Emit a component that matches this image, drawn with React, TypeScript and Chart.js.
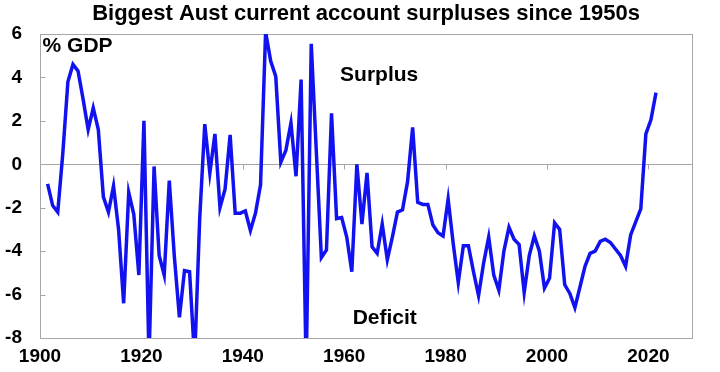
import React, { useEffect, useRef } from "react";
import { Chart, registerables } from "chart.js";

Chart.register(...registerables);

const titleText = "Biggest Aust current account surpluses since 1950s";

// Current account balance, % of GDP, 1901 … 2021
const firstYear = 1901;
const balance = [
  -0.9, -1.9, -2.2, 0.5, 3.8, 4.6, 4.3, 3.0, 1.6, 2.6,
  1.6, -1.5, -2.2, -1.0, -3.0, -6.4, -1.3, -2.3, -5.1, 2.0,
  -9.0, -0.1, -4.2, -5.1, -0.75, -4.25, -7.05, -4.9, -4.95, -9.0,
  -2.5, 1.85, -0.4, 1.4, -2.0, -1.15, 1.35, -2.25, -2.25, -2.15,
  -3.05, -2.25, -0.95, 6.1, 4.75, 4.05, 0.1, 0.65, 1.9, -0.55,
  3.9, -9.5, 5.55, 0.6, -4.3, -3.95, 2.35, -2.5, -2.45, -3.35,
  -4.95, 0.0, -2.75, -0.4, -3.8, -4.1, -2.75, -4.4, -3.35, -2.2,
  -2.1, -0.8, 1.7, -1.75, -1.85, -1.85, -2.8, -3.15, -3.3, -1.6,
  -3.65, -5.45, -3.75, -3.75, -4.95, -6.05, -4.55, -3.35, -5.1, -5.8,
  -4.0, -2.9, -3.45, -3.7, -5.9, -4.2, -3.3, -4.0, -5.7, -5.25,
  -2.7, -3.0, -5.55, -5.95, -6.6, -5.65, -4.7, -4.1, -4.0, -3.55,
  -3.45, -3.6, -3.9, -4.2, -4.7, -3.25, -2.65, -2.05, 1.4, 2.05,
  3.3,
];
const years = balance.map((_, i) => firstYear + i);

const xTicks = [1900, 1920, 1940, 1960, 1980, 2000, 2020];
const yTicks = [-8, -6, -4, -2, 0, 2, 4, 6];
const xMin = 1900;
const xMax = 2028.6;

const annotations = [
  { text: "% GDP", x: 1900.5, y: 5.45, align: "left" },
  { text: "Surplus", x: 1966.9, y: 4.1, align: "center" },
  { text: "Deficit", x: 1968.0, y: -7.1, align: "center" },
];

const FONT = "'Liberation Sans', Arial, sans-serif";
const GRID = "#a6a6a6";
const LINE = "rgb(18,18,240)";

const framePlugin = {
  id: "frame",
  beforeDatasetsDraw(chart: any) {
    const { ctx, chartArea: a, scales } = chart;
    const xs = scales.x;
    const ys = scales.y;
    ctx.save();
    ctx.strokeStyle = GRID;
    ctx.lineWidth = 1;
    const l = Math.round(a.left) + 0.5;
    const t = Math.round(a.top) + 0.5;
    const r = Math.round(a.right) + 0.5;
    const b = Math.round(a.bottom) + 0.5;
    ctx.strokeRect(l, t, r - l, b - t);
    ctx.beginPath();
    yTicks.forEach((v) => {
      const py = Math.round(ys.getPixelForValue(v)) + 0.5;
      ctx.moveTo(l, py);
      ctx.lineTo(l + 5, py);
    });
    const y0 = Math.round(ys.getPixelForValue(0)) + 0.5;
    xTicks.slice(1).forEach((v) => {
      const px = Math.round(xs.getPixelForValue(v)) + 0.5;
      ctx.moveTo(px, y0);
      ctx.lineTo(px, y0 + 5);
    });
    ctx.stroke();
    ctx.restore();
  },
  afterDatasetsDraw(chart: any) {
    const { ctx, scales } = chart;
    ctx.save();
    ctx.fillStyle = "#000";
    ctx.font = `bold 21px ${FONT}`;
    ctx.textBaseline = "middle";
    annotations.forEach((an) => {
      ctx.textAlign = an.align as CanvasTextAlign;
      ctx.fillText(an.text, scales.x.getPixelForValue(an.x), scales.y.getPixelForValue(an.y));
    });
    ctx.restore();
  },
};

export default function App() {
  const ref = useRef<HTMLCanvasElement | null>(null);

  useEffect(() => {
    if (!ref.current) return;
    const chart = new Chart(ref.current, {
      type: "line",
      data: {
        datasets: [
          {
            data: years.map((yr, i) => ({ x: yr + 0.5, y: balance[i] })),
            borderColor: LINE,
            borderWidth: 3.5,
            pointRadius: 0,
            tension: 0,
            fill: false,
          },
        ],
      },
      options: {
        animation: false,
        responsive: false,
        devicePixelRatio: 1,
        layout: { padding: { top: 0, right: 28, bottom: 0, left: 0 } },
        plugins: {
          legend: { display: false },
          tooltip: { enabled: false },
          title: {
            display: true,
            fullSize: false,
            text: titleText,
            color: "#000",
            font: { family: FONT, size: 22, weight: "bold" },
            padding: { top: 1, bottom: 6.6 },
          },
        },
        scales: {
          x: {
            type: "linear",
            min: xMin,
            max: xMax,
            afterBuildTicks: (scale: any) => {
              scale.ticks = xTicks.map((v) => ({ value: v }));
            },
            afterFit: (scale: any) => {
              scale.height = 34;
            },
            grid: { display: false, drawTicks: false },
            border: { display: false },
            ticks: {
              padding: 7,
              color: "#000",
              maxRotation: 0,
              autoSkip: false,
              font: { family: FONT, size: 19, weight: "bold" },
              callback: (v: any) => String(v),
            },
          },
          y: {
            min: -8,
            max: 6,
            afterBuildTicks: (scale: any) => {
              scale.ticks = yTicks.map((v) => ({ value: v }));
            },
            afterFit: (scale: any) => {
              scale.width = 40;
            },
            grid: {
              drawTicks: false,
              color: (c: any) => (c.tick && c.tick.value === 0 ? GRID : "rgba(0,0,0,0)"),
              lineWidth: 1,
            },
            border: { display: false },
            ticks: {
              padding: 18,
              color: "#000",
              font: { family: FONT, size: 19, weight: "bold" },
              callback: (v: any) => String(v),
            },
          },
        },
      },
      plugins: [framePlugin],
    });
    return () => chart.destroy();
  }, []);

  return (
    <div style={{ position: "absolute", left: 0, top: 0, width: 720, height: 372, background: "#fff" }}>
      <canvas ref={ref} width={720} height={372} style={{ display: "block" }} />
    </div>
  );
}
